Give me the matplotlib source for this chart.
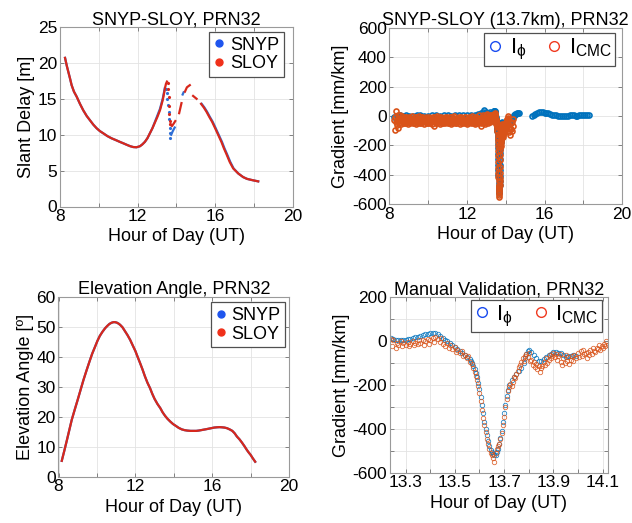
import numpy as np
import matplotlib
matplotlib.use('Agg')
import matplotlib.pyplot as plt
from matplotlib.lines import Line2D

plt.rcParams['font.family'] = ['Liberation Sans', 'DejaVu Sans']
plt.rcParams['mathtext.fontset'] = 'dejavusans'

nan = np.nan

# ---------------- Slant delay (top-left) ----------------
snyp_t = [8.26, 8.35, 8.43, 8.52, 8.60, 8.72, 8.86, 9.03, 9.20, 9.38, 9.55, 9.72, 9.89, 10.06, 10.23, 10.45,
          10.66, 10.88, 11.09, 11.27, 11.44, 11.62, 11.78, 11.95, 12.13, 12.25, 12.38, 12.51, 12.64, 12.77,
          12.90, 13.03, 13.16, 13.23, 13.30, 13.36, 13.41, nan,
          13.74, 13.82, 13.92, nan, 14.33, 14.38, nan,
          15.31, 15.45, 15.59, 15.73, 15.88, 16.02, 16.19, 16.36, 16.49, 16.62, 16.79, 16.96, 17.2, 17.45,
          17.65, 17.88, 18.05, 18.23]
snyp_v = [20.7, 19.6, 18.75, 17.8, 16.9, 16.0, 15.3, 14.3, 13.4, 12.6, 12.0, 11.4, 10.9, 10.5, 10.2, 9.8,
          9.5, 9.25, 9.0, 8.8, 8.6, 8.4, 8.28, 8.25, 8.4, 8.65, 9.0, 9.5, 10.2, 10.9,
          11.8, 12.7, 13.6, 14.3, 15.0, 15.8, 16.5, nan,
          10.0, 10.5, 11.0, nan, 15.6, 15.9, nan,
          14.3, 13.8, 13.2, 12.5, 11.8, 11.0, 10.0, 9.0, 8.1, 7.3, 6.2, 5.3, 4.6, 4.1,
          3.85, 3.7, 3.6, 3.5]
snyp_drop_t = [13.46, 13.50, 13.54, 13.57, 13.60, 13.63, 13.66, 13.68, 13.70]
snyp_drop_v = [16.4, 15.8, 15.0, 14.2, 13.2, 12.2, 11.0, 10.2, 9.5]

sloy_t = [8.26, 8.35, 8.43, 8.52, 8.60, 8.72, 8.86, 9.03, 9.20, 9.38, 9.55, 9.72, 9.89, 10.06, 10.23, 10.45,
          10.66, 10.88, 11.09, 11.27, 11.44, 11.62, 11.78, 11.95, 12.13, 12.25, 12.38, 12.51, 12.64, 12.77,
          12.90, 13.03, 13.16, 13.23, 13.30, 13.36, 13.42, 13.47, 13.52, nan,
          13.70, 13.78, 13.88, 13.95, nan, 14.15, 14.27, nan,
          14.45, 14.55, 14.70, nan, 14.87, 15.05, nan,
          15.28, 15.42, 15.56, 15.70, 15.85, 15.99, 16.16, 16.33, 16.46, 16.59, 16.76, 16.94, 17.2, 17.45,
          17.65, 17.88, 18.05, 18.23]
sloy_v = [20.7, 19.6, 18.75, 17.8, 16.9, 16.0, 15.3, 14.3, 13.4, 12.6, 12.0, 11.4, 10.9, 10.5, 10.2, 9.8,
          9.5, 9.25, 9.0, 8.8, 8.6, 8.4, 8.28, 8.25, 8.4, 8.65, 9.0, 9.5, 10.2, 10.9,
          11.7, 12.5, 13.4, 14.1, 14.8, 15.6, 16.5, 17.1, 17.4, nan,
          11.4, 11.2, 11.6, 11.9, nan, 13.0, 14.4, nan,
          16.0, 16.6, 16.9, nan, 15.4, 15.0, nan,
          14.3, 13.8, 13.2, 12.5, 11.8, 11.0, 10.0, 9.0, 8.1, 7.3, 6.2, 5.3, 4.6, 4.1,
          3.85, 3.7, 3.6, 3.5]
sloy_drop_t = [13.55, 13.58, 13.60, 13.62, 13.64, 13.66, 13.68]
sloy_drop_v = [17.2, 16.3, 15.2, 14.0, 12.9, 11.9, 11.5]

# ---------------- Elevation angle (bottom-left) ----------------
elev_t = [8.17, 8.30, 8.43, 8.56, 8.69, 8.85, 9.00, 9.15, 9.30, 9.45, 9.60, 9.75, 9.91, 10.03, 10.15, 10.29,
          10.43, 10.55, 10.65, 10.76, 10.86, 10.95, 11.05, 11.13, 11.21, 11.33, 11.45, 11.59, 11.73, 11.86,
          12.00, 12.12, 12.25, 12.38, 12.50, 12.63, 12.77, 12.88, 13.00, 13.15, 13.30, 13.42, 13.55, 13.68,
          13.82, 13.96, 14.10, 14.26, 14.42, 14.56, 14.70, 14.87, 15.03, 15.17, 15.30, 15.47, 15.64, 15.80,
          15.95, 16.10, 16.25, 16.38, 16.50, 16.64, 16.77, 16.91, 17.05, 17.17, 17.29, 17.42, 17.55, 17.68,
          17.81, 17.90, 18.00, 18.12, 18.24]
elev_v = [5.3, 8.6, 12.0, 15.5, 19.0, 22.5, 25.7, 29.0, 32.3, 35.3, 38.2, 41.0, 43.5, 45.4, 47.0, 48.4,
          49.6, 50.4, 51.0, 51.4, 51.6, 51.6, 51.4, 51.1, 50.7, 49.9, 48.7, 47.3, 45.7, 43.9,
          42.0, 40.0, 37.9, 35.7, 33.5, 31.4, 29.5, 27.7, 26.0, 24.3, 22.9, 21.5, 20.3, 19.3,
          18.4, 17.6, 17.0, 16.3, 15.8, 15.55, 15.4, 15.3, 15.3, 15.3, 15.4, 15.6, 15.8, 16.0,
          16.2, 16.4, 16.5, 16.55, 16.5, 16.4, 16.2, 15.8, 15.3, 14.5, 13.4, 12.5, 11.4, 10.2,
          8.9, 8.1, 7.3, 6.1, 5.0]

# ---------------- Gradients (right panels) ----------------
phi_t = [8.25, 8.40, 8.55, 8.70, 8.85, 9.00, 9.20, 9.40, 9.60, 9.80, 10.00, 10.20, 10.40, 10.60, 10.80,
         11.00, 11.20, 11.40, 11.60, 11.80, 12.00, 12.20, 12.40, 12.55, 12.70, 12.80, 12.90, 13.00, 13.10, 13.20,
         13.24, 13.25, 13.26, 13.27, 13.28, 13.29, 13.30, 13.31, 13.32, 13.33, 13.34, 13.35, 13.36, 13.37,
         13.38, 13.39, 13.40, 13.41, 13.42, 13.43, 13.44, 13.45, 13.46, 13.47, 13.48, 13.49, 13.50, 13.51,
         13.52, 13.53, 13.54, 13.55, 13.56, 13.565, 13.57, 13.575, 13.58, 13.585, 13.59, 13.595, 13.60,
         13.605, 13.61, 13.615, 13.62, 13.625, 13.63, 13.635, 13.64, 13.645, 13.65, 13.655, 13.66, 13.665,
         13.67, 13.675, 13.68, 13.685, 13.69, 13.695, 13.70, 13.705, 13.71, 13.715, 13.72, 13.73, 13.74,
         13.75, 13.76, 13.77, 13.78, 13.785, 13.79, 13.795, 13.80, 13.81, 13.82, 13.83, 13.84, 13.85, 13.86,
         13.87, 13.88, 13.89, 13.90, 13.91, 13.92, 13.93, 13.94, 13.95, 13.96, 13.97, 13.98, 13.99,
         14.20, 14.25, 14.35, 14.40, 14.45, 14.50, 14.55, 14.60, 14.65, 14.70,
         15.38, 15.45, 15.50, 15.60, 15.70, 15.80, 15.90, 16.00, 16.10, 16.20, 16.30, 16.40, 16.50, 16.60,
         16.70, 16.80, 16.90, 17.00, 17.10, 17.20, 17.30, 17.40, 17.50, 17.60, 17.70, 17.80, 17.90, 18.00,
         18.10, 18.20, 18.30]
phi_v = [-5, 2, 5, 3, 4, 2, 3, 5, 4, 3, 2, 4, 5, 3, 4,
         5, 3, 4, 6, 5, 4, 6, 8, 12, 20, 30, 38, 25, 18, 28,
         14, 8, 4, 3, 3, 4, 6, 8, 11, 14, 17, 20, 24, 27,
         30, 33, 35, 36, 34, 30, 24, 15, 6, -2, -10, -20, -28, -36,
         -45, -53, -62, -72, -82, -90, -100, -112, -128, -145, -165, -190, -220,
         -255, -292, -330, -368, -400, -430, -456, -478, -496, -508, -517, -521, -518,
         -508, -490, -468, -440, -408, -370, -330, -290, -252, -222, -200, -180, -164,
         -150, -138, -124, -100, -80, -58, -45, -42, -52, -66, -80, -92, -93, -84,
         -75, -66, -58, -52, -50, -54, -57, -64, -74, -70, -68, -66, -68,
         -40, -30, -5, 2, 8, 12, 15, 18, 20, 22,
         -2, 8, 14, 20, 24, 25, 24, 22, 20, 18, 14, 10, 7, 4,
         2, 0, -2, 0, 2, 3, 4, 5, 4, 3, 2, 4, 6, 7,
         5, 6, 7]

cmc_t = [8.25, 8.30, 8.35, 8.40, 8.45, 8.50, 8.55, 8.60, 8.65, 8.70, 8.75, 8.80, 8.85, 8.90, 8.95,
         9.00, 9.05, 9.10, 9.15, 9.20, 9.25, 9.30, 9.35, 9.40, 9.45, 9.50, 9.55, 9.60, 9.65, 9.70,
         9.75, 9.80, 9.85, 9.90, 9.95, 10.00, 10.05, 10.10, 10.15, 10.20, 10.25, 10.30, 10.35, 10.40,
         10.45, 10.50, 10.55, 10.60, 10.65, 10.70, 10.75, 10.80, 10.85, 10.90, 10.95, 11.00, 11.05,
         11.10, 11.15, 11.20, 11.25, 11.30, 11.35, 11.40, 11.45, 11.50, 11.55, 11.60, 11.65, 11.70,
         11.75, 11.80, 11.85, 11.90, 11.95, 12.00, 12.05, 12.10, 12.15, 12.20, 12.25, 12.30, 12.35,
         12.40, 12.45, 12.50, 12.55, 12.60, 12.65, 12.70, 12.75, 12.80, 12.85, 12.90, 12.95, 13.00,
         13.05, 13.10, 13.15, 13.20,
         8.275, 8.325, 8.375, 8.425, 8.475, 8.525, 8.575, 8.625, 8.675, 8.725, 8.775, 8.825, 8.875,
         8.925, 8.975, 9.025, 9.075, 9.125, 9.175, 9.225, 9.275, 9.325, 9.375, 9.425, 9.475, 9.525,
         9.575, 9.625, 9.675, 9.725, 9.775, 9.825, 9.875, 9.925, 9.975, 10.025, 10.075, 10.125, 10.175,
         10.225, 10.275, 10.325, 10.375, 10.425, 10.475, 10.525, 10.575, 10.625, 10.675, 10.725, 10.775,
         10.825, 10.875, 10.925, 10.975, 11.025, 11.075, 11.125, 11.175, 11.225, 11.275, 11.325, 11.375,
         11.425, 11.475, 11.525, 11.575, 11.625, 11.675, 11.725, 11.775, 11.825, 11.875, 11.925, 11.975,
         12.025, 12.075, 12.125, 12.175, 12.225, 12.275, 12.325, 12.375, 12.425, 12.475, 12.525, 12.575,
         12.625, 12.675, 12.725, 12.775, 12.825, 12.875, 12.925, 12.975, 13.025, 13.075, 13.125, 13.175,
         13.225,
         13.24, 13.245, 13.25, 13.26, 13.265, 13.27, 13.28, 13.285, 13.29, 13.30, 13.31, 13.315, 13.32,
         13.33, 13.335, 13.34, 13.35, 13.355, 13.36, 13.37, 13.375, 13.38, 13.39, 13.395, 13.40, 13.41,
         13.415, 13.42, 13.43, 13.44, 13.445, 13.45, 13.46, 13.47, 13.475, 13.48, 13.49, 13.50, 13.505,
         13.51, 13.52, 13.53, 13.535, 13.54, 13.55, 13.555, 13.56, 13.57, 13.575, 13.58, 13.585, 13.59,
         13.595, 13.60, 13.605, 13.61, 13.615, 13.62, 13.625, 13.63, 13.635, 13.64, 13.645, 13.65,
         13.655, 13.66, 13.665, 13.67, 13.675, 13.68, 13.685, 13.69, 13.695, 13.70, 13.705, 13.71,
         13.715, 13.72, 13.725, 13.73, 13.735, 13.74, 13.745, 13.75, 13.755, 13.76, 13.765, 13.77,
         13.775, 13.78, 13.785, 13.79, 13.795, 13.80, 13.805, 13.81, 13.815, 13.82, 13.825, 13.83,
         13.835, 13.84, 13.845, 13.85, 13.855, 13.86, 13.865, 13.87, 13.875, 13.88, 13.885, 13.89,
         13.895, 13.90, 13.905, 13.91, 13.915, 13.92, 13.925, 13.93, 13.935, 13.94, 13.945, 13.95,
         13.955, 13.96, 13.965, 13.97, 13.975, 13.98, 13.985, 13.99, 14.00, 14.005, 14.01, 14.015,
         14.02, 14.025, 14.03, 14.035, 14.04, 14.045, 14.05, 14.055, 14.06, 14.065, 14.07, 14.075,
         14.08, 14.085, 14.09, 14.095, 14.10, 14.105, 14.11, 14.115, 14.12,
         14.15, 14.18, 14.20, 14.22, 14.25, 14.28, 14.30, 14.33, 14.35, 14.38]
cmc_v = [-30, -95, 35, -60, 10, -45, -15, -55, 0, -35, -50, -5, -40, -20, -55,
         -10, -45, -25, 0, -50, -30, -10, -55, -20, -40, 0, -50, -25, -45, -5,
         -35, -55, -15, -40, -25, -50, -5, -45, -20, -55, -10, -70, -30, -45,
         0, -40, -20, -55, -10, -35, -50, -15, -45, -25, -5, -50, -30,
         -40, -10, -55, -25, -45, 0, -35, -50, -15, -40, -25, -55, -5,
         -45, -20, -50, -10, -35, -55, -15, -40, -25, -50, 0, -45, -20,
         -55, -10, -35, -50, 5, -40, -65, -20, 10, -45, -15, -55, 5,
         -30, -50, 0, -40,
         -10, -40, -25, -80, -35, 5, -30, -20, -40, -15, -28, -45, -8,
         -32, -22, -38, -12, -42, -28, -18, -45, -35, -5, -30, -48, -20,
         -12, -38, -8, -30, -22, -42, -10, -48, -18, -32, -40, -15, -35,
         -28, -5, -40, -22, -50, -15, -30, -8, -38, -28, -45, -20,
         -32, -10, -40, -18, -30, -48, -8, -35, -22, -42, -12, -28,
         -45, -20, -35, -5, -30, -42, -15, -38, -25, -10, -40, -30,
         -18, -48, -8, -32, -22, -40, -12, -35, -28, -45, -15, -30,
         -35, -15, -48, -22, -5, -30, -40, -10, 15, -35, -20, -28,
         -30,
         10, -25, 5, -30, -10, -20, 0, -25, -10, -18, -5, -22, -12,
         -2, -20, -8, -15, 2, -10, 5, -18, 0, 10, -12, 5, 15,
         -5, 20, 8, -5, 15, -12, -22, -8, -30, -18, -38, -28, -50,
         -40, -55, -48, -70, -62, -78, -68, -95, -105, -122, -140, -158, -180,
         -205, -238, -275, -315, -350, -385, -415, -445, -470, -490, -510, -520,
         -535, -551, -512, -490, -478, -470, -445, -420, -385, -345, -300, -265,
         -230, -210, -195, -205, -185, -165, -170, -150, -135, -120, -110, -95,
         -80, -90, -70, -60, -75, -55, -90, -85, -110, -98, -120, -105,
         -130, -115, -140, -125, -115, -95, -110, -80, -100, -85, -65, -80,
         -70, -55, -75, -60, -85, -70, -60, -95, -110, -80, -100, -65,
         -90, -75, -105, -85, -70, -90, -65, -80, -55, -75, -45, -70,
         -40, -60, -55, -80, -50, -65, -40, -60, -30, -45, -50, -30,
         -35, -20, -40, -25, -30, -15, -25, 0, -20,
         -60, -110, -80, -130, -90, -50, -100, -40, -20, -70]

# ---------------- Ticks / labels ----------------
hour_ticks = [8, 10, 12, 14, 16, 18, 20]
hour_labels = ['8', '', '12', '', '16', '', '20']
delay_ticks = [0, 5, 10, 15, 20, 25]
grad_ticks = [-600, -400, -200, 0, 200, 400, 600]
elev_ticks = [0, 10, 20, 30, 40, 50, 60]
zoom_ticks = [13.3, 13.4, 13.5, 13.6, 13.7, 13.8, 13.9, 14.0, 14.1]
zoom_labels = ['13.3', '', '13.5', '', '13.7', '', '13.9', '', '14.1']
zgrad_ticks = [-600, -500, -400, -300, -200, -100, 0, 100, 200]
zgrad_labels = ['-600', '', '-400', '', '-200', '', '0', '', '200']

# ---------------- Styling ----------------
W, H = 632, 523
FS = 12.5
FS_T = 13
LINE_BLUE = '#2f6fd6'
LINE_RED = '#d8281c'
DOT_BLUE = '#1f55ee'
DOT_RED = '#f0301a'
M_BLUE = '#0072BD'
M_ORANGE = '#D95319'
LEG_BLUE = '#1a4cf0'
LEG_RED = '#f03a20'

fig = plt.figure(figsize=(W / 100, H / 100), dpi=100)


def rect(l, t, r, b):
    return [l / W, 1 - b / H, (r - l) / W, (b - t) / H]


def style(ax, xt, xl, yt, yl, xlim, ylim, title, xlabel, ylabel):
    ax.set_xlim(*xlim)
    ax.set_ylim(*ylim)
    ax.set_xticks(xt)
    ax.set_xticklabels(xl if xl is not None else [str(v) for v in xt])
    ax.set_yticks(yt)
    ax.set_yticklabels(yl if yl is not None else [str(v) for v in yt])
    ax.tick_params(direction='in', length=3, width=0.6, color='#707070', labelsize=FS,
                   top=True, right=True, pad=2)
    for s in ax.spines.values():
        s.set_color('#9a9a9a')
        s.set_linewidth(0.8)
    ax.grid(True, color='#e3e3e3', linewidth=0.6)
    ax.set_axisbelow(True)
    ax.set_title(title, fontsize=FS_T, pad=2)
    ax.set_xlabel(xlabel, fontsize=FS_T, labelpad=3)
    ax.set_ylabel(ylabel, fontsize=FS_T, labelpad=2)


def leg_style(leg):
    fr = leg.get_frame()
    fr.set_edgecolor('#505050')
    fr.set_linewidth(0.9)
    fr.set_boxstyle('square', pad=0)


# ---- top-left ----
ax1 = fig.add_axes(rect(60, 27, 292.5, 206.5))
ax1.plot(snyp_t, snyp_v, color=LINE_BLUE, lw=1.6)
ax1.plot(snyp_drop_t, snyp_drop_v, ls='', marker='.', ms=2.5, color=LINE_BLUE)
ax1.plot(sloy_t, sloy_v, color=LINE_RED, lw=1.6)
ax1.plot(sloy_drop_t, sloy_drop_v, ls='', marker='.', ms=2.5, color=LINE_RED)
style(ax1, hour_ticks, hour_labels, delay_ticks, None, (8, 20), (0, 25),
      'SNYP-SLOY, PRN32', 'Hour of Day (UT)', 'Slant Delay [m]')
h1 = [Line2D([], [], ls='', marker='o', ms=5, color=DOT_BLUE),
      Line2D([], [], ls='', marker='o', ms=5, color=DOT_RED)]
lg = ax1.legend(h1, ['SNYP', 'SLOY'], loc='upper right', bbox_to_anchor=(0.963, 0.972),
                borderaxespad=0, fontsize=13, handlelength=0.6, handletextpad=0.3,
                borderpad=0.25, labelspacing=0.1, fancybox=False, framealpha=1)
leg_style(lg)

# ---- top-right ----
ax2 = fig.add_axes(rect(389.5, 27.7, 622, 204.3))
ax2.plot(phi_t, phi_v, ls='', marker='o', ms=3.6, mfc='none', mec=M_BLUE, mew=1.2)
ax2.plot(cmc_t, cmc_v, ls='', marker='o', ms=3.6, mfc='none', mec=M_ORANGE, mew=1.2)
style(ax2, hour_ticks, hour_labels, grad_ticks, None, (8, 20), (-600, 600),
      'SNYP-SLOY (13.7km), PRN32', 'Hour of Day (UT)', 'Gradient [mm/km]')
h2 = [Line2D([], [], ls='', marker='o', ms=7, mfc='none', mec=LEG_BLUE, mew=1.0),
      Line2D([], [], ls='', marker='o', ms=7, mfc='none', mec=LEG_RED, mew=1.0)]
lab2 = [r'$\mathregular{I_{\phi}}$', r'$\mathregular{I_{CMC}}$']
lg = ax2.legend(h2, lab2, loc='upper right', bbox_to_anchor=(0.970, 0.968), ncol=2,
                borderaxespad=0, fontsize=16, handlelength=0.7, handletextpad=0.3,
                columnspacing=0.9, borderpad=0.15, fancybox=False, framealpha=1)
leg_style(lg)

# ---- bottom-left ----
ax3 = fig.add_axes(rect(58.5, 297, 289, 476.7))
ax3.plot(elev_t, elev_v, color=LINE_BLUE, lw=1.6)
ax3.plot(elev_t, elev_v, color=LINE_RED, lw=1.6)
style(ax3, hour_ticks, hour_labels, elev_ticks, None, (8, 20), (0, 60),
      'Elevation Angle, PRN32', 'Hour of Day (UT)', 'Elevation Angle [º]')
lg = ax3.legend(h1, ['SNYP', 'SLOY'], loc='upper right', bbox_to_anchor=(0.983, 0.970),
                borderaxespad=0, fontsize=13, handlelength=0.6, handletextpad=0.3,
                borderpad=0.25, labelspacing=0.1, fancybox=False, framealpha=1)
leg_style(lg)

# ---- bottom-right ----
ax4 = fig.add_axes(rect(390, 297, 607.7, 472.7))
ax4.plot(phi_t, phi_v, ls='', marker='o', ms=3.2, mfc='none', mec=M_BLUE, mew=0.6, alpha=0.85)
ax4.plot(cmc_t, cmc_v, ls='', marker='o', ms=3.2, mfc='none', mec=M_ORANGE, mew=0.6, alpha=0.85)
style(ax4, zoom_ticks, zoom_labels, zgrad_ticks, zgrad_labels, (13.237, 14.12), (-600, 200),
      'Manual Validation, PRN32', 'Hour of Day (UT)', 'Gradient [mm/km]')
lg = ax4.legend(h2, lab2, loc='upper right', bbox_to_anchor=(0.972, 0.985), ncol=2,
                borderaxespad=0, fontsize=16, handlelength=0.7, handletextpad=0.3,
                columnspacing=0.9, borderpad=0.15, fancybox=False, framealpha=1)
leg_style(lg)

fig.savefig('out.png', dpi=100)
